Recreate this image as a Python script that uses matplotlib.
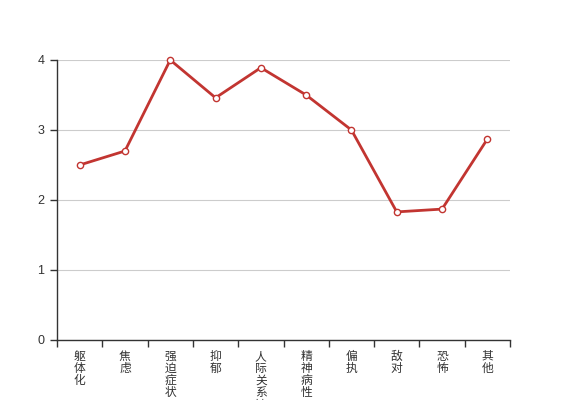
import matplotlib
matplotlib.use("Agg")
import matplotlib.pyplot as plt
import numpy as np

plt.rcParams['font.family'] = ['Noto Sans CJK SC', 'DejaVu Sans']

categories = ["躯体化", "焦虑", "强迫症状", "抑郁", "人际关系敏感", "精神病性", "偏执", "敌对", "恐怖", "其他"]
values = [2.5, 2.7, 4.0, 3.46, 3.89, 3.5, 3.0, 1.83, 1.87, 2.87]
yticks = [0, 1, 2, 3, 4]

fig = plt.figure(figsize=(5.67, 4.0), dpi=100)
ax = fig.add_axes([57/567, 1 - 340/400, (510-57)/567, (340-60)/400])

x = np.arange(len(categories))
ax.plot(x, values, color='#c23531', lw=2, marker='o', ms=4.5,
        mfc='white', mec='#c23531', mew=1, zorder=3, clip_on=False)

ax.set_xlim(-0.5, len(categories) - 0.5)
ax.set_ylim(0, 4)
ax.set_yticks(yticks)
ax.set_yticklabels([str(v) for v in yticks], fontsize=9, color='#333333',
                   family=['Liberation Sans', 'DejaVu Sans'])
ax.yaxis.grid(True, color='#cccccc', lw=0.8)
ax.set_axisbelow(True)

ax.set_xticks(np.arange(-0.5, len(categories)), minor=False)
ax.set_xticklabels([])
ax.set_xticks(x, minor=True)
ax.set_xticklabels(["\n".join(c) for c in categories], minor=True,
                   fontsize=8.5, color='#333333', va='top', linespacing=0.92)
ax.tick_params(axis='x', which='major', length=5, width=1, color='#333333', direction='out')
ax.tick_params(axis='x', which='minor', length=0, pad=7)
ax.tick_params(axis='y', length=5, width=1, color='#333333', direction='out', pad=4)

for s in ['top', 'right']:
    ax.spines[s].set_visible(False)
for s in ['left', 'bottom']:
    ax.spines[s].set_color('#333333')
    ax.spines[s].set_linewidth(1)

fig.savefig('out.png', dpi=100)
